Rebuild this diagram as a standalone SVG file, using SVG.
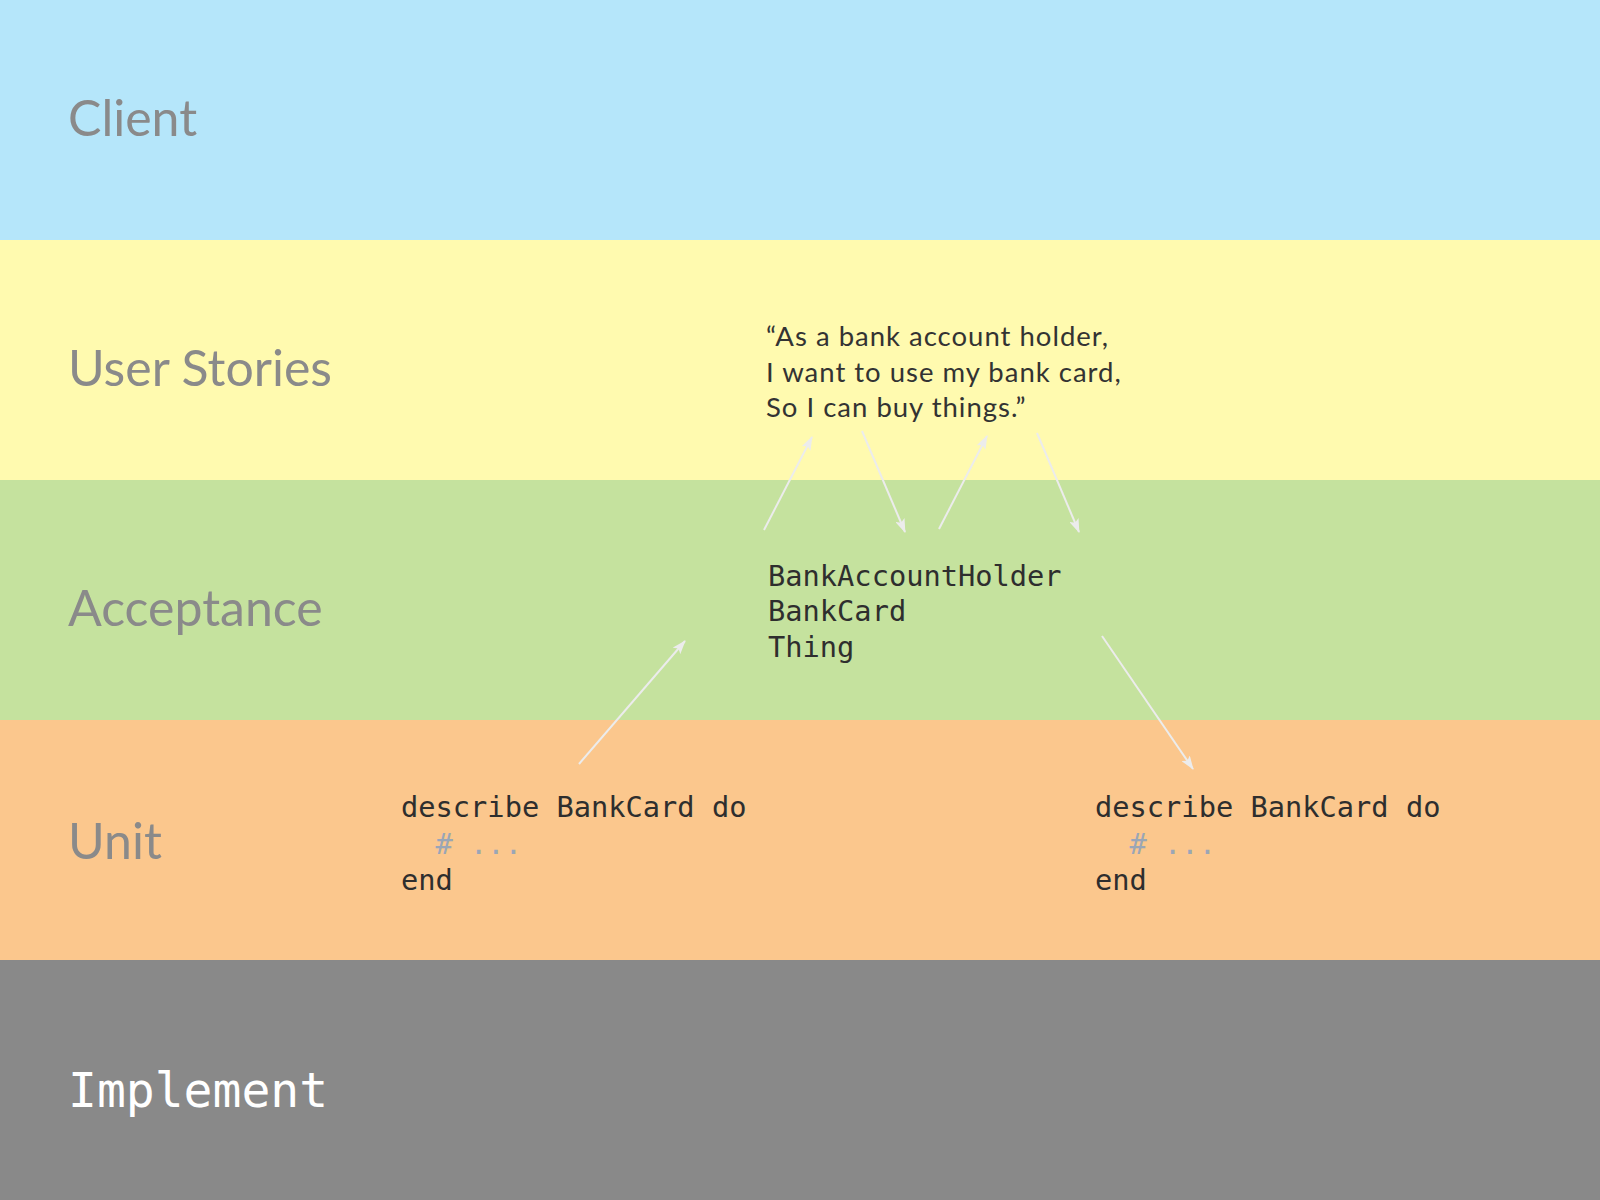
<svg xmlns="http://www.w3.org/2000/svg" width="1600" height="1200" viewBox="0 0 1600 1200">
<style>
.label{font-family:Lato,"Noto Sans","Liberation Sans",sans-serif;font-size:50px;fill:#8a8a8a}
.quote{font-family:Lato,"Noto Sans","Liberation Sans",sans-serif;font-size:27.5px;letter-spacing:1px;fill:#333333}
.code{font-family:"DejaVu Sans Mono","Liberation Mono",monospace;font-size:28.7px;fill:#2e2e2e}
.cmt{fill:#9aa6b6}
.impl{font-family:"DejaVu Sans Mono","Liberation Mono",monospace;font-size:48px;fill:#ffffff}
.conn{stroke:#ececec;stroke-width:2;fill:none;marker-end:url(#ah)}
</style>
<defs>
<marker id="ah" viewBox="0 0 14 10" refX="13" refY="5" markerWidth="14" markerHeight="10" markerUnits="userSpaceOnUse" orient="auto">
<path d="M0,0 L14,5 L0,10 L3,5 z" fill="#ececec"/>
</marker>
</defs>
<g id="band-client"><rect x="0" y="0" width="1600" height="240" fill="#b5e6fa"/><text class="label" x="68" y="136">Client</text></g>
<g id="band-stories"><rect x="0" y="240" width="1600" height="240" fill="#fffaaf"/><text class="label" x="68" y="386">User Stories</text></g>
<g id="band-acceptance"><rect x="0" y="480" width="1600" height="240" fill="#c5e29e"/><text class="label" x="68" y="626">Acceptance</text></g>
<g id="band-unit"><rect x="0" y="720" width="1600" height="240" fill="#fbc78d"/><text class="label" x="68" y="859">Unit</text></g>
<g id="band-implement"><rect x="0" y="960" width="1600" height="240" fill="#898989"/><text class="impl" x="68" y="1107">Implement</text></g>
<g id="story">
<text class="quote" x="766" y="346">“As a bank account holder,</text>
<text class="quote" x="766" y="382">I want to use my bank card,</text>
<text class="quote" x="766" y="417">So I can buy things.”</text>
</g>
<g id="acceptance-code">
<text class="code" x="768" y="586">BankAccountHolder</text>
<text class="code" x="768" y="621">BankCard</text>
<text class="code" x="768" y="657">Thing</text>
</g>
<g id="unit-left">
<text class="code" x="401" y="817">describe BankCard do</text>
<text class="code cmt" x="401" y="854" xml:space="preserve">  # ...</text>
<text class="code" x="401" y="890">end</text>
</g>
<g id="unit-right">
<text class="code" x="1095" y="817">describe BankCard do</text>
<text class="code cmt" x="1095" y="854" xml:space="preserve">  # ...</text>
<text class="code" x="1095" y="890">end</text>
</g>
<g id="connectors">
<line class="conn" x1="764" y1="530" x2="812" y2="437"/>
<line class="conn" x1="862" y1="431" x2="905" y2="532"/>
<line class="conn" x1="939" y1="529" x2="987" y2="436"/>
<line class="conn" x1="1037" y1="433" x2="1079" y2="532"/>
<line class="conn" x1="579" y1="764" x2="685" y2="641"/>
<line class="conn" x1="1102" y1="636" x2="1193" y2="769"/>
</g>
</svg>
